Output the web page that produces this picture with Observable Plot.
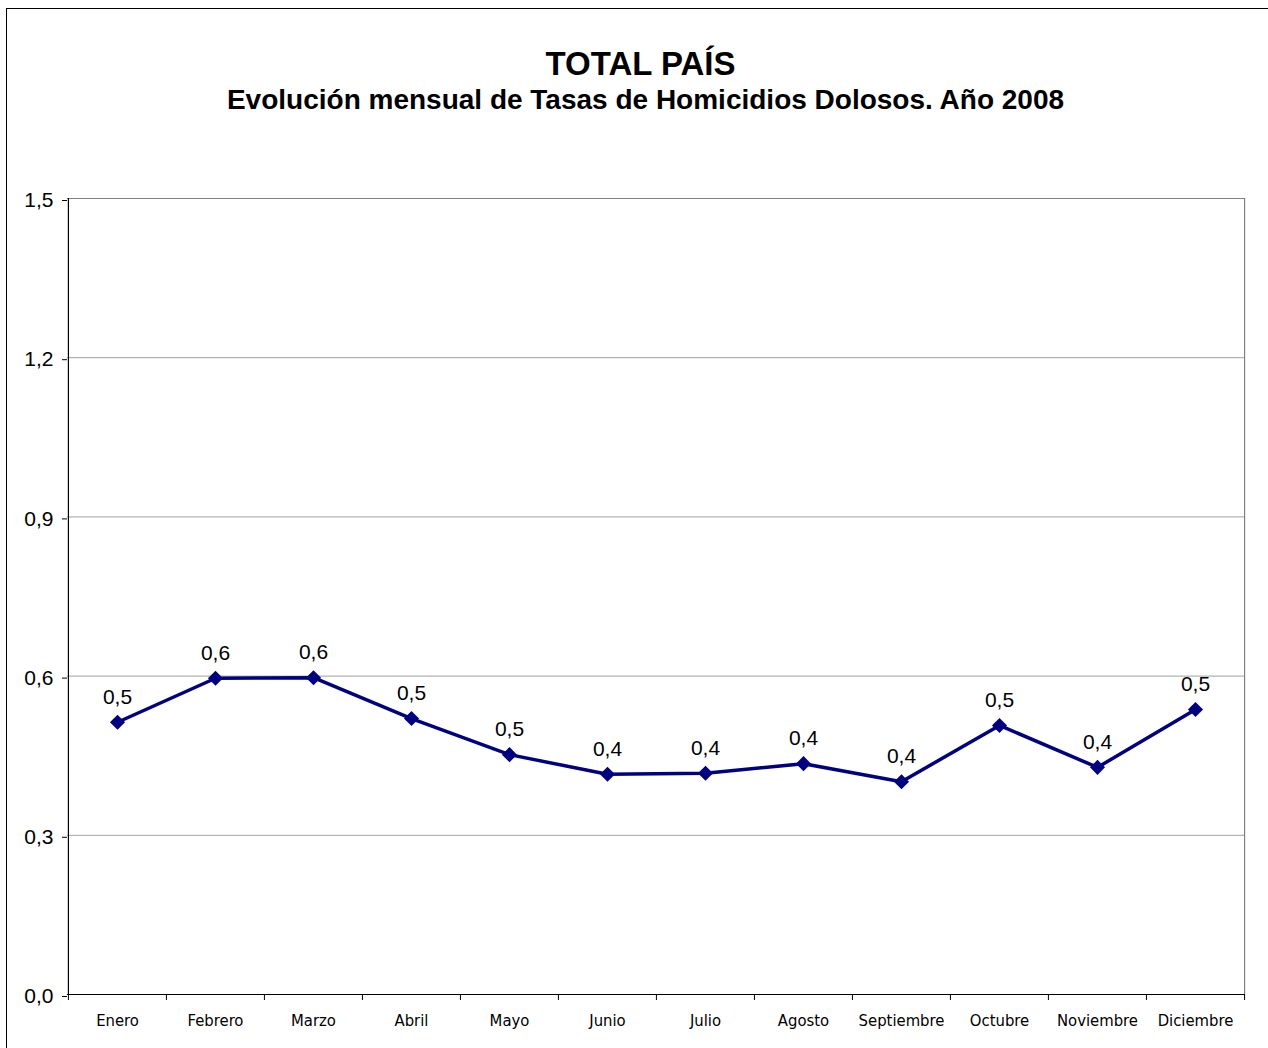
<!DOCTYPE html>
<html>
<head>
<meta charset="utf-8">
<script src="https://cdn.jsdelivr.net/npm/d3@7"></script>
<script src="https://cdn.jsdelivr.net/npm/@observablehq/plot@0.6"></script>
<style>
  html, body { margin: 0; padding: 0; background: #fff; overflow: hidden; width: 1268px; height: 1048px; }
  #frame { position: absolute; left: 6px; top: 8px; width: 1400px; height: 1200px; border: 1px solid #000; }
  #title { position: absolute; left: 0; width: 1281px; top: 47px; text-align: center;
           font: bold 33px "Liberation Sans", Arial, sans-serif; line-height: 33px; color: #000; }
  #subtitle { position: absolute; left: 0; width: 1291px; top: 86px; text-align: center;
           font: bold 28px "Liberation Sans", Arial, sans-serif; line-height: 28px; color: #000; }
  #chart { position: absolute; left: 0; top: 150px; }
  #chart svg g[aria-label="x-axis tick label"] text { font-stretch: condensed; }
</style>
</head>
<body>
<div id="frame"></div>
<div id="title">TOTAL PAÍS</div>
<div id="subtitle">Evolución mensual de Tasas de Homicidios Dolosos. Año 2008</div>
<div id="chart"></div>
<script>
const months = ["Enero", "Febrero", "Marzo", "Abril", "Mayo", "Junio", "Julio", "Agosto", "Septiembre", "Octubre", "Noviembre", "Diciembre"];
const rates = [0.513, 0.596, 0.597, 0.520, 0.452, 0.415, 0.417, 0.435, 0.401, 0.507, 0.428, 0.537];
const yTicks = [0, 0.3, 0.6, 0.9, 1.2, 1.5];

const data = months.map((m, i) => ({month: m, rate: rates[i]}));
const fmt = d => d.toFixed(1).replace(".", ",");

const W = 1268, H = 898, mL = 67, mR = 23, mT = 48, mB = 54;
const half = (W - mL - mR) / months.length / 2;
const navy = "#000080";

const chart = Plot.plot({
  width: W, height: H,
  marginLeft: mL, marginRight: mR, marginTop: mT, marginBottom: mB,
  style: {background: "transparent", fontFamily: "'Liberation Sans', Arial, sans-serif", fontSize: "21px", color: "#000"},
  x: {type: "band", domain: months, padding: 0},
  y: {domain: [0, 1.5]},
  marks: [
    Plot.ruleY(yTicks.slice(1, -1), {stroke: "#a0a0a0", strokeWidth: 1}),
    Plot.ruleY([1.5], {stroke: "#808080", strokeWidth: 1.2}),
    Plot.ruleX([months[months.length - 1]], {dx: half, stroke: "#808080", strokeWidth: 1.2}),
    Plot.axisY({ticks: yTicks, tickFormat: fmt, tickSize: 5, tickPadding: 9, dy: 2, fontSize: 21, label: null, stroke: "#000"}),
    Plot.ruleX([months[0]], {dx: -half, stroke: "#000", strokeWidth: 1.2}),
    Plot.ruleY([0], {stroke: "#000", strokeWidth: 1.2}),
    Plot.ruleX(months, {y1: 0, y2: 0, dx: -half, insetBottom: -6, stroke: "#000"}),
    Plot.ruleX([months[months.length - 1]], {y1: 0, y2: 0, dx: half, insetBottom: -6, stroke: "#000"}),
    Plot.axisX({tickSize: 0, tickPadding: 20, fontFamily: "'DejaVu Sans Condensed', 'DejaVu Sans', sans-serif", fontSize: 16.5, label: null}),
    Plot.line(data, {x: "month", y: "rate", stroke: navy, strokeWidth: 3.5}),
    Plot.dot(data, {x: "month", y: "rate", symbol: "diamond2", r: 6.8, fill: navy}),
    Plot.text(data, {x: "month", y: "rate", text: d => fmt(d.rate), dy: -25, fontSize: 21, fill: "#000"})
  ]
});
document.getElementById("chart").appendChild(chart);
</script>
</body>
</html>
